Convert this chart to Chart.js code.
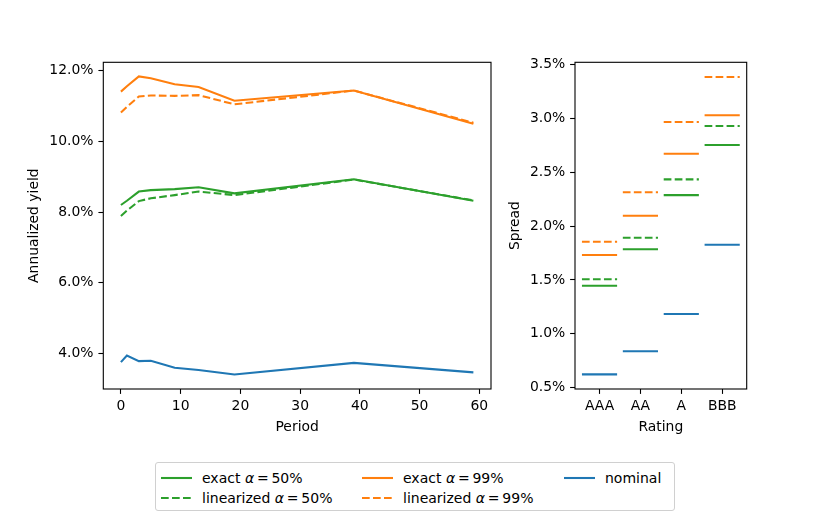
<!DOCTYPE html>
<html>
<head>
<meta charset="utf-8">
<script src="https://cdn.jsdelivr.net/npm/chart.js@4"></script>
<style>
  html, body { margin:0; padding:0; background:#fff; }
  body { width:830px; height:519px; position:relative; overflow:hidden; font-family:"DejaVu Sans", sans-serif; }
  canvas { position:absolute; }
  #legend { position:absolute; left:155px; top:462px; width:518px; height:47px; border:1px solid #d0d0d0; border-radius:3px; box-sizing:content-box; }
  .item { position:absolute; height:18px; font-size:14px; line-height:18px; color:#000; white-space:nowrap; }
  .item svg { position:absolute; left:0; top:4px; }
  .item span { position:absolute; left:41px; top:0; }
</style>
</head>
<body>
<canvas id="c1" width="510" height="440" style="left:0;top:0"></canvas>
<canvas id="c2" width="280" height="440" style="left:500px;top:0"></canvas>
<div id="legend"></div>
<script>
// ---- data: left panel (annualized yield, %) ----
const periods = [0, 1, 3, 5, 9, 13, 19, 39, 59];
const exact50 = [8.20, 8.32, 8.58, 8.62, 8.65, 8.70, 8.53, 8.93, 8.32];
const linear50 = [7.89, 8.04, 8.31, 8.39, 8.48, 8.58, 8.48, 8.92, 8.33];
const exact99 = [11.41, 11.56, 11.84, 11.79, 11.62, 11.54, 11.15, 11.44, 10.50];
const linear99 = [10.82, 10.98, 11.27, 11.30, 11.29, 11.31, 11.05, 11.44, 10.53];
const nominal = [3.75, 3.94, 3.78, 3.79, 3.59, 3.53, 3.40, 3.73, 3.46];
const periodTicks = [0, 10, 20, 30, 40, 50, 60];
const yieldTicks = [4, 6, 8, 10, 12];

// ---- data: right panel (spread, %) ----
const ratings = ["AAA", "AA", "A", "BBB"];
const spreadExact50 = [1.446, 1.784, 2.287, 2.751];
const spreadLinear50 = [1.506, 1.891, 2.433, 2.928];
const spreadExact99 = [1.731, 2.096, 2.671, 3.027];
const spreadLinear99 = [1.854, 2.313, 2.965, 3.382];
const spreadNominal = [0.624, 0.838, 1.184, 1.827];
const spreadTicks = [0.5, 1.0, 1.5, 2.0, 2.5, 3.0, 3.5];

const BLUE = "#1f77b4", ORANGE = "#ff7f0e", GREEN = "#2ca02c";
const FONT = { family: "DejaVu Sans", size: 13.9 };
const LW = 2.08;
const DASH = [7.7, 3.3];

Chart.defaults.font.family = "DejaVu Sans";
Chart.defaults.color = "#000";

const framePlugin = {
  id: "frame",
  afterDraw(chart) {
    const a = chart.chartArea, ctx = chart.ctx;
    ctx.save();
    ctx.strokeStyle = "#000";
    ctx.lineWidth = 1.1;
    ctx.strokeRect(a.left, a.top, a.right - a.left, a.bottom - a.top);
    ctx.restore();
  }
};

function pts(xs, ys) { return xs.map((x, i) => ({ x: x, y: ys[i] })); }

function lineDs(label, data, color, dashed) {
  return {
    label, data, borderColor: color, backgroundColor: color,
    borderWidth: LW, borderDash: dashed ? DASH : [], pointRadius: 0,
    tension: 0, fill: false, spanGaps: false
  };
}

function axisCommon() {
  return {
    border: { display: false },
    grid: { display: true, drawOnChartArea: false, drawTicks: true, tickLength: 4.9, tickColor: "#000", tickWidth: 1.1 },
  };
}

// Left chart
new Chart(document.getElementById("c1"), {
  type: "line",
  data: {
    datasets: [
      lineDs("exact 50", pts(periods, exact50), GREEN, false),
      lineDs("linearized 50", pts(periods, linear50), GREEN, true),
      lineDs("exact 99", pts(periods, exact99), ORANGE, false),
      lineDs("linearized 99", pts(periods, linear99), ORANGE, true),
      lineDs("nominal", pts(periods, nominal), BLUE, false),
    ]
  },
  options: {
    responsive: false, animation: false,
    layout: { padding: { top: 62.3, right: 19, left: 0, bottom: 0 } },
    plugins: { legend: { display: false }, tooltip: { enabled: false } },
    scales: {
      x: Object.assign(axisCommon(), {
        type: "linear", min: -2.95, max: 61.95,
        afterBuildTicks: s => { s.ticks = periodTicks.map(v => ({ value: v })); },
        afterFit: s => { s.height = 51; },
        ticks: { font: FONT, color: "#000", padding: 4, maxRotation: 0, callback: v => String(v) },
        title: { display: true, text: "Period", font: FONT, color: "#000", padding: { top: 0, bottom: 4.5 } }
      }),
      y: Object.assign(axisCommon(), {
        type: "linear", min: 2.99, max: 12.24,
        afterBuildTicks: s => { s.ticks = yieldTicks.map(v => ({ value: v })); },
        afterFit: s => { s.width = 103.3; },
        ticks: { font: FONT, color: "#000", padding: 4.9, callback: v => v.toFixed(1) + "%" },
        title: { display: true, text: "Annualized yield", font: FONT, color: "#000", padding: { top: 26.5, bottom: 0 } }
      })
    }
  },
  plugins: [framePlugin]
});

// Right chart: horizontal segments per rating
const HALF = 0.43;
function segs(vals) {
  const out = [];
  vals.forEach((v, i) => {
    out.push({ x: i - HALF, y: v });
    out.push({ x: i + HALF, y: v });
    out.push({ x: i + 0.5, y: null });
  });
  return out;
}

new Chart(document.getElementById("c2"), {
  type: "line",
  data: {
    datasets: [
      lineDs("exact 50", segs(spreadExact50), GREEN, false),
      lineDs("linearized 50", segs(spreadLinear50), GREEN, true),
      lineDs("exact 99", segs(spreadExact99), ORANGE, false),
      lineDs("linearized 99", segs(spreadLinear99), ORANGE, true),
      lineDs("nominal", segs(spreadNominal), BLUE, false),
    ]
  },
  options: {
    responsive: false, animation: false,
    layout: { padding: { top: 62.3, right: 33.3, left: 0, bottom: 0 } },
    plugins: { legend: { display: false }, tooltip: { enabled: false } },
    scales: {
      x: Object.assign(axisCommon(), {
        type: "linear", min: -0.6, max: 3.6,
        afterBuildTicks: s => { s.ticks = ratings.map((r, i) => ({ value: i })); },
        afterFit: s => { s.height = 51; },
        ticks: { font: FONT, color: "#000", padding: 4, maxRotation: 0, autoSkip: false, callback: v => ratings[v] },
        title: { display: true, text: "Rating", font: FONT, color: "#000", padding: { top: 0, bottom: 4.5 } }
      }),
      y: Object.assign(axisCommon(), {
        type: "linear", min: 0.488, max: 3.519,
        afterBuildTicks: s => { s.ticks = spreadTicks.map(v => ({ value: v })); },
        afterFit: s => { s.width = 75; },
        ticks: { font: FONT, color: "#000", padding: 4.9, callback: v => v.toFixed(1) + "%" },
        title: { display: true, text: "Spread", font: FONT, color: "#000", padding: { top: 6.7, bottom: 0 } }
      })
    }
  },
  plugins: [framePlugin]
});

// Legend (HTML, text kept as real text)
const legendItems = [
  { col: 0, row: 0, color: GREEN, dashed: false, html: 'exact <i>α</i>&#8201;=&#8201;50%' },
  { col: 0, row: 1, color: GREEN, dashed: true, html: 'linearized <i>α</i>&#8201;=&#8201;50%' },
  { col: 1, row: 0, color: ORANGE, dashed: false, html: 'exact <i>α</i>&#8201;=&#8201;99%' },
  { col: 1, row: 1, color: ORANGE, dashed: true, html: 'linearized <i>α</i>&#8201;=&#8201;99%' },
  { col: 2, row: 0, color: BLUE, dashed: false, html: 'nominal' },
];
const colX = [5, 206, 408];
const rowY = [6, 26];
const leg = document.getElementById("legend");
legendItems.forEach(it => {
  const d = document.createElement("div");
  d.className = "item";
  d.style.left = colX[it.col] + "px";
  d.style.top = rowY[it.row] + "px";
  d.innerHTML = '<svg width="32" height="10"><line x1="0" y1="5" x2="31" y2="5" stroke="' + it.color +
    '" stroke-width="2.08"' + (it.dashed ? ' stroke-dasharray="7.7 3.3"' : '') + '/></svg><span>' + it.html + '</span>';
  leg.appendChild(d);
});
</script>
</body>
</html>
